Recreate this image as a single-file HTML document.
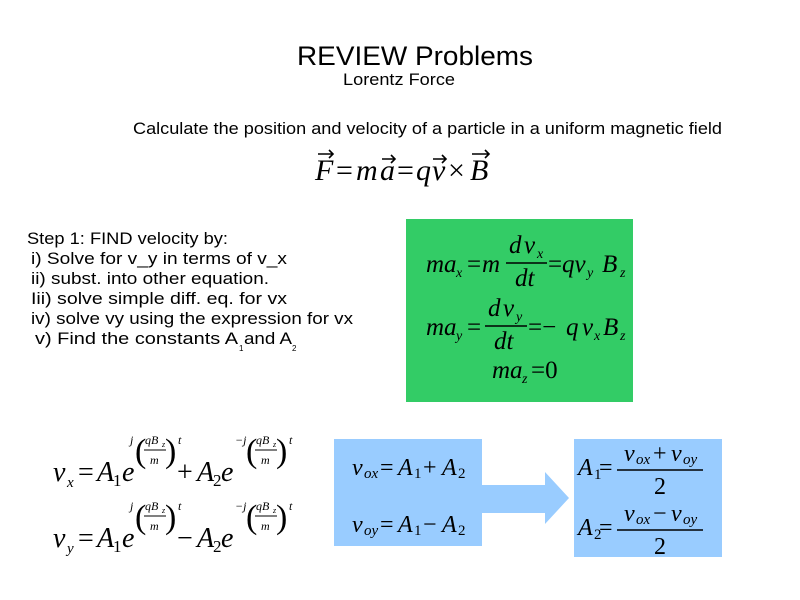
<!DOCTYPE html>
<html><head><meta charset="utf-8"><style>
html,body{margin:0;padding:0;background:#fff;width:800px;height:600px;overflow:hidden}
svg{display:block}
.s{font-family:"Liberation Sans",sans-serif;fill:#000}
.m{font-family:"Liberation Serif",serif;font-style:italic;fill:#000}
.n{font-family:"Liberation Serif",serif;font-style:normal;fill:#000}
</style></head><body>
<svg width="800" height="600" viewBox="0 0 800 600">
<text class="s" x="297" y="65" font-size="27" textLength="236" lengthAdjust="spacingAndGlyphs">REVIEW Problems</text>
<text class="s" x="343" y="85" font-size="17" textLength="112" lengthAdjust="spacingAndGlyphs">Lorentz Force</text>
<text class="s" x="133" y="134" font-size="17" textLength="589" lengthAdjust="spacingAndGlyphs">Calculate the position and velocity of a particle in a uniform magnetic field</text>

<g font-size="30">
<text class="m" x="315" y="180">F</text>
<text class="n" x="336" y="180">=</text>
<text class="m" x="356" y="180">m</text>
<text class="m" x="380" y="180">a</text>
<text class="n" x="397" y="180">=</text>
<text class="m" x="416" y="180">q</text>
<text class="m" x="432" y="180">v</text>
<text class="n" x="448" y="180">×</text>
<text class="m" x="470" y="180">B</text>
</g>
<g stroke="#000" stroke-width="1.6" fill="none">
<path d="M318 154 H333 M329 150 L333 154 L329 158"/>
<path d="M382 159 H395 M391 155 L395 159 L391 163"/>
<path d="M433 159 H446 M442 155 L446 159 L442 163"/>
<path d="M472 154 H489 M485 150 L489 154 L485 158"/>
</g>

<g class="s" font-size="17">
<text x="27" y="244" textLength="201" lengthAdjust="spacingAndGlyphs">Step 1: FIND velocity by:</text>
<text x="31" y="264" textLength="256" lengthAdjust="spacingAndGlyphs">i) Solve for v_y in terms of v_x</text>
<text x="31" y="284" textLength="238" lengthAdjust="spacingAndGlyphs">ii) subst. into other equation.</text>
<text x="31" y="304" textLength="256" lengthAdjust="spacingAndGlyphs">Iii) solve simple diff. eq. for vx</text>
<text x="31" y="324" textLength="322" lengthAdjust="spacingAndGlyphs">iv) solve vy using the expression for vx</text>
<text x="35" y="344" textLength="203" lengthAdjust="spacingAndGlyphs">v) Find the constants A</text>
<text x="239" y="351" font-size="8">1</text>
<text x="244" y="344" textLength="48" lengthAdjust="spacingAndGlyphs">and A</text>
<text x="292" y="351" font-size="8">2</text>
</g>

<rect x="406" y="219" width="227" height="183" fill="#33cc66"/>
<g font-size="25">
<text class="m" x="426" y="272">ma</text><text class="m" x="456" y="277" font-size="14">x</text>
<text class="n" x="467" y="272">=</text><text class="m" x="482" y="272">m</text>
<text class="m" x="509" y="253">d</text><text class="m" x="524" y="253">v</text><text class="m" x="537" y="258" font-size="14">x</text>
<line x1="506" y1="263" x2="547" y2="263" stroke="#000" stroke-width="1.5"/>
<text class="m" x="515" y="286">dt</text>
<text class="n" x="548" y="272">=</text>
<text class="m" x="562" y="272">qv</text><text class="m" x="587" y="277" font-size="14">y</text>
<text class="m" x="602" y="272">B</text><text class="m" x="620" y="277" font-size="14">z</text>

<text class="m" x="426" y="335">ma</text><text class="m" x="456" y="340" font-size="14">y</text>
<text class="n" x="467" y="335">=</text>
<text class="m" x="488" y="316">d</text><text class="m" x="503" y="316">v</text><text class="m" x="516" y="321" font-size="14">y</text>
<line x1="485" y1="326" x2="527" y2="326" stroke="#000" stroke-width="1.5"/>
<text class="m" x="494" y="349">dt</text>
<text class="n" x="528" y="335">=−</text>
<text class="m" x="566" y="335">q</text><text class="m" x="582" y="335">v</text><text class="m" x="594" y="340" font-size="14">x</text>
<text class="m" x="603" y="335">B</text><text class="m" x="620" y="340" font-size="14">z</text>

<text class="m" x="492" y="378">ma</text><text class="m" x="522" y="383" font-size="14">z</text>
<text class="n" x="531" y="378">=0</text>
</g>

<g font-size="28">
<text class="m" x="53" y="481">v</text><text class="m" x="67" y="487" font-size="15">x</text>
<text class="n" x="78" y="481">=</text>
<text class="m" x="97" y="481">A</text><text class="n" x="113" y="486" font-size="17">1</text>
<text class="m" x="122" y="481">e</text>
<text class="n" x="177" y="481">+</text>
<text class="m" x="197" y="481">A</text><text class="n" x="213" y="486" font-size="17">2</text>
<text class="m" x="221" y="481">e</text>

<text class="m" x="53" y="547">v</text><text class="m" x="67" y="553" font-size="15">y</text>
<text class="n" x="78" y="547">=</text>
<text class="m" x="97" y="547">A</text><text class="n" x="113" y="552" font-size="17">1</text>
<text class="m" x="122" y="547">e</text>
<text class="n" x="177" y="547">−</text>
<text class="m" x="197" y="547">A</text><text class="n" x="213" y="552" font-size="17">2</text>
<text class="m" x="221" y="547">e</text>
</g>
<g font-size="12">
<g>
<text class="m" x="130" y="444">j</text><text class="n" x="135" y="462" font-size="34">(</text>
<text class="m" x="145" y="444">qB</text><text class="m" x="162" y="447" font-size="8">z</text>
<line x1="144" y1="450" x2="166" y2="450" stroke="#000"/><text class="m" x="150" y="464">m</text>
<text class="n" x="165" y="462" font-size="34">)</text><text class="m" x="178" y="444">t</text>

<text class="m" x="235" y="444">−j</text><text class="n" x="246" y="462" font-size="34">(</text>
<text class="m" x="256" y="444">qB</text><text class="m" x="273" y="447" font-size="8">z</text>
<line x1="255" y1="450" x2="277" y2="450" stroke="#000"/><text class="m" x="261" y="464">m</text>
<text class="n" x="276" y="462" font-size="34">)</text><text class="m" x="289" y="444">t</text>
</g>
<g transform="translate(0,66)">
<text class="m" x="130" y="444">j</text><text class="n" x="135" y="462" font-size="34">(</text>
<text class="m" x="145" y="444">qB</text><text class="m" x="162" y="447" font-size="8">z</text>
<line x1="144" y1="450" x2="166" y2="450" stroke="#000"/><text class="m" x="150" y="464">m</text>
<text class="n" x="165" y="462" font-size="34">)</text><text class="m" x="178" y="444">t</text>

<text class="m" x="235" y="444">−j</text><text class="n" x="246" y="462" font-size="34">(</text>
<text class="m" x="256" y="444">qB</text><text class="m" x="273" y="447" font-size="8">z</text>
<line x1="255" y1="450" x2="277" y2="450" stroke="#000"/><text class="m" x="261" y="464">m</text>
<text class="n" x="276" y="462" font-size="34">)</text><text class="m" x="289" y="444">t</text>
</g>
</g>

<rect x="334" y="439" width="148" height="107" fill="#99ccff"/>
<polygon points="482,485 545,485 545,472 569,498 545,524 545,513 482,513" fill="#99ccff"/>
<rect x="574" y="439" width="148" height="118" fill="#99ccff"/>
<g font-size="24">
<text class="m" x="352" y="475">v</text><text class="m" x="364" y="478" font-size="15">ox</text>
<text class="n" x="380" y="475">=</text>
<text class="m" x="398" y="475">A</text><text class="n" x="414" y="478" font-size="15">1</text>
<text class="n" x="423" y="475">+</text>
<text class="m" x="442" y="475">A</text><text class="n" x="458" y="478" font-size="15">2</text>

<text class="m" x="352" y="532">v</text><text class="m" x="364" y="535" font-size="15">oy</text>
<text class="n" x="380" y="532">=</text>
<text class="m" x="398" y="532">A</text><text class="n" x="414" y="535" font-size="15">1</text>
<text class="n" x="423" y="532">−</text>
<text class="m" x="442" y="532">A</text><text class="n" x="458" y="535" font-size="15">2</text>

<text class="m" x="578" y="475">A</text><text class="n" x="594" y="479" font-size="15">1</text>
<text class="n" x="599" y="475">=</text>
<text class="m" x="624" y="461">v</text><text class="m" x="636" y="464" font-size="15">ox</text>
<text class="n" x="653" y="461">+</text>
<text class="m" x="671" y="461">v</text><text class="m" x="683" y="464" font-size="15">oy</text>
<line x1="617" y1="470" x2="703" y2="470" stroke="#000" stroke-width="1.5"/>
<text class="n" x="654" y="494">2</text>

<text class="m" x="578" y="535">A</text><text class="n" x="594" y="539" font-size="15">2</text>
<text class="n" x="599" y="535">=</text>
<text class="m" x="624" y="521">v</text><text class="m" x="636" y="524" font-size="15">ox</text>
<text class="n" x="653" y="521">−</text>
<text class="m" x="671" y="521">v</text><text class="m" x="683" y="524" font-size="15">oy</text>
<line x1="617" y1="530" x2="703" y2="530" stroke="#000" stroke-width="1.5"/>
<text class="n" x="654" y="554">2</text>
</g>
</svg>
</body></html>
